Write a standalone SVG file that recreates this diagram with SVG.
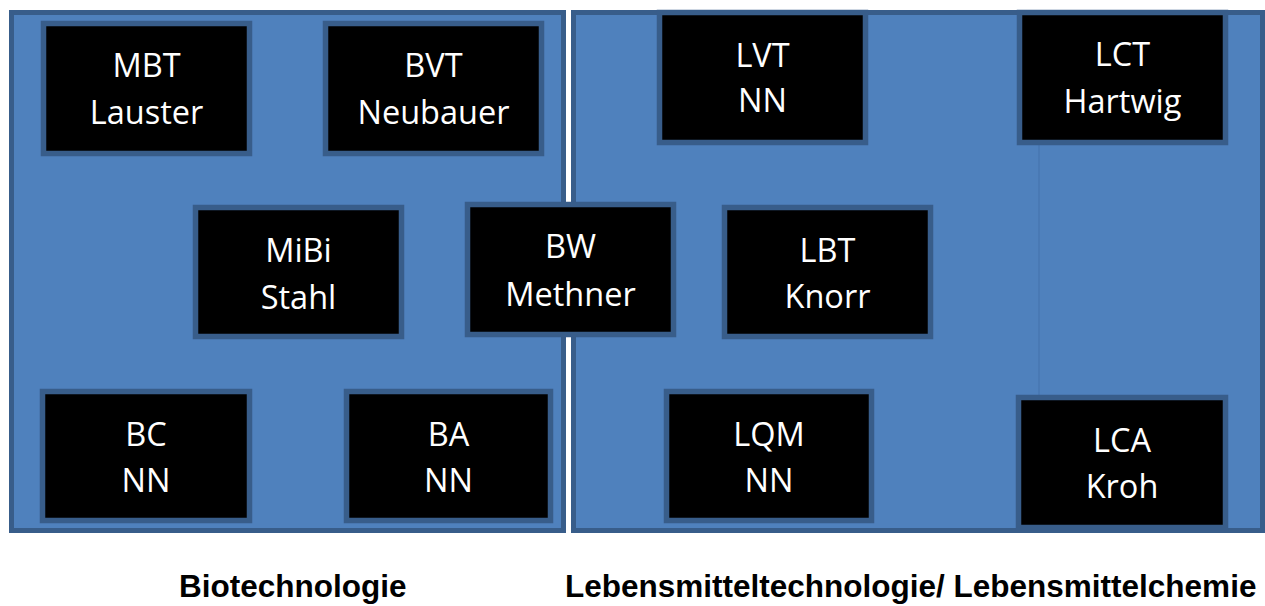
<svg xmlns="http://www.w3.org/2000/svg" width="1265" height="606" viewBox="0 0 1265 606">
<style>
.panel{fill:#4F81BD;stroke:#385D8A;stroke-width:5}
.box{fill:#000;stroke:#385D8A;stroke-width:5.5}
.t{fill:#fff;font-family:"Open Sans","Liberation Sans",sans-serif;font-size:32.5px;text-anchor:middle}
.lbl{fill:#000;font-family:"Liberation Sans",Arial,sans-serif;font-size:31.5px;font-weight:bold}
.conn{stroke:#4777B2;stroke-width:1.5;fill:none}
</style>
<rect width="1265" height="606" fill="#fff"/>
<g id="panel-bio"><rect class="panel" x="11.5" y="12.5" width="552" height="518"/></g>
<g id="panel-leb"><rect class="panel" x="573.5" y="12.5" width="689" height="518"/></g>
<g id="connectors"><line class="conn" x1="1039" y1="145" x2="1039" y2="396"/></g>
<g id="MBT"><rect class="box" x="43.5" y="23.5" width="206" height="130"/><text class="t" x="146.5" y="77">MBT</text><text class="t" x="146.5" y="124">Lauster</text></g>
<g id="BVT"><rect class="box" x="325.5" y="23.5" width="216" height="130"/><text class="t" x="433.5" y="77">BVT</text><text class="t" x="433.5" y="124">Neubauer</text></g>
<g id="LVT"><rect class="box" x="659.5" y="12.5" width="206" height="130"/><text class="t" x="762.5" y="67">LVT</text><text class="t" x="762.5" y="112">NN</text></g>
<g id="LCT"><rect class="box" x="1019.5" y="12.5" width="206" height="130"/><text class="t" x="1122.5" y="66">LCT</text><text class="t" x="1122.5" y="113">Hartwig</text></g>
<g id="MiBi"><rect class="box" x="195.5" y="207.5" width="206" height="129"/><text class="t" x="298.5" y="262">MiBi</text><text class="t" x="298.5" y="309">Stahl</text></g>
<g id="BW"><rect class="box" x="467.5" y="204.5" width="206" height="130"/><text class="t" x="570.5" y="258">BW</text><text class="t" x="570.5" y="306">Methner</text></g>
<g id="LBT"><rect class="box" x="724.5" y="207.5" width="206" height="129"/><text class="t" x="827.5" y="262">LBT</text><text class="t" x="827.5" y="308">Knorr</text></g>
<g id="BC"><rect class="box" x="42.5" y="391.5" width="207" height="129"/><text class="t" x="146" y="446">BC</text><text class="t" x="146" y="492">NN</text></g>
<g id="BA"><rect class="box" x="346.5" y="391.5" width="204" height="129"/><text class="t" x="448.5" y="446">BA</text><text class="t" x="448.5" y="492">NN</text></g>
<g id="LQM"><rect class="box" x="666.5" y="391.5" width="205" height="129"/><text class="t" x="769" y="446">LQM</text><text class="t" x="769" y="492">NN</text></g>
<g id="LCA"><rect class="box" x="1018.5" y="397.5" width="207" height="130"/><text class="t" x="1122" y="452">LCA</text><text class="t" x="1122" y="498">Kroh</text></g>
<g id="labels">
<text class="lbl" x="179" y="597">Biotechnologie</text>
<text class="lbl" x="565" y="597">Lebensmitteltechnologie/ Lebensmittelchemie</text>
</g>
</svg>
